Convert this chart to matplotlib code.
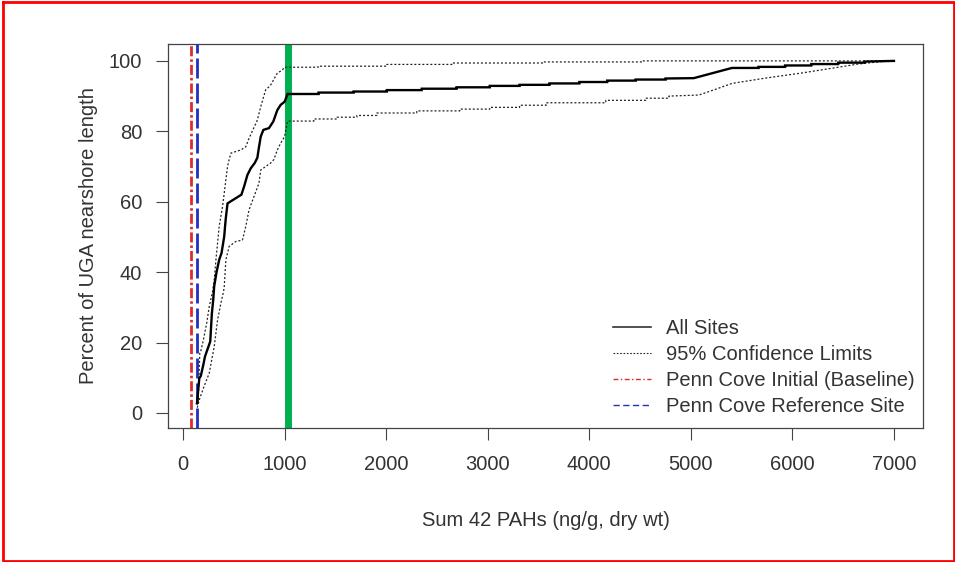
import matplotlib
matplotlib.use("Agg")
import matplotlib.pyplot as plt
from matplotlib.lines import Line2D

# ---------------- data ----------------
all_x = [137, 160, 175, 203, 216, 268, 284, 297, 307, 330, 356, 379, 405, 420, 438,
         464, 575, 601, 634, 667, 706, 732, 745, 765, 791, 846, 889, 928, 961, 1000,
         1030, 1335, 1335, 1680, 1680, 2007, 2007, 2350, 2350, 2693, 2693, 3020, 3020,
         3314, 3314, 3608, 3608, 3902, 3902, 4176, 4176, 4458, 4458, 4752, 4752, 5029,
         5405, 5667, 5667, 5928, 5928, 6186, 6186, 6451, 6451, 6712, 6712, 7000]
all_y = [2.7, 9.8, 10.5, 14.1, 16.0, 20.3, 28.3, 32.0, 36.0, 40.0, 43.5, 45.4, 50.0, 55.0, 59.5,
         60.0, 62.0, 64.3, 67.6, 69.5, 71.0, 72.5, 75.0, 78.5, 80.4, 80.9, 82.8, 86.0, 87.5, 88.4,
         90.6, 90.6, 91.0, 91.0, 91.3, 91.3, 91.7, 91.7, 92.1, 92.1, 92.5, 92.5, 92.9,
         92.9, 93.2, 93.2, 93.6, 93.6, 94.0, 94.0, 94.4, 94.4, 94.7, 94.7, 95.0, 95.1,
         98.0, 98.0, 98.3, 98.3, 98.7, 98.7, 99.1, 99.1, 99.5, 99.5, 99.8, 100.0]

upper_x = [150, 165, 174, 200, 233, 258, 291, 307, 324, 356, 389, 422, 438, 454, 471,
           569, 618, 650, 732, 765, 814, 860, 928, 977, 1000,
           1330, 1330, 2007, 2007, 2657, 2657, 3539, 3539, 4520, 4520, 7000]
upper_y = [4.0, 17.0, 17.4, 20.7, 25.5, 30.2, 34.5, 37.8, 43.5, 53.0, 58.6, 66.2, 70.0, 72.0, 73.8,
           74.7, 75.6, 78.0, 83.2, 87.0, 91.8, 93.0, 96.5, 97.4, 98.2,
           98.2, 98.5, 98.5, 99.0, 99.0, 99.4, 99.4, 99.7, 99.7, 100.0, 100.0]

lower_x = [140, 160, 200, 258, 307, 340, 373, 395, 405, 422, 454, 520, 585, 618, 650,
           748, 765, 814, 863, 895, 928, 961, 1000, 1030,
           1288, 1288, 1516, 1516, 1712, 1712, 1909, 1909, 2301, 2301, 2725, 2725,
           3020, 3020, 3314, 3314, 3575, 3575, 4163, 4163, 4556, 4556, 4784, 4784,
           5078, 5250, 5405, 5732, 6078, 6386, 6647, 6873, 7000]
lower_y = [1.5, 3.7, 7.0, 11.3, 18.8, 26.4, 31.2, 34.0, 35.5, 43.5, 47.3, 48.7, 49.1, 53.0, 57.7,
           65.3, 69.0, 70.0, 71.0, 72.0, 74.7, 76.6, 78.5, 82.9,
           82.9, 83.5, 83.5, 84.0, 84.0, 84.5, 84.5, 85.2, 85.2, 85.8, 85.8, 86.3,
           86.3, 86.8, 86.8, 87.4, 87.4, 88.1, 88.1, 88.8, 88.8, 89.4, 89.4, 90.0,
           90.3, 92.0, 93.6, 95.1, 96.5, 97.9, 99.1, 99.8, 100.0]

penn_initial = 76
penn_reference = 140
threshold = 1030

x_ticks = [0, 1000, 2000, 3000, 4000, 5000, 6000, 7000]
y_ticks = [0, 20, 40, 60, 80, 100]

legend_labels = ["All Sites", "95% Confidence Limits",
                 "Penn Cove Initial (Baseline)", "Penn Cove Reference Site"]

# ---------------- styling ----------------
plt.rcParams['font.family'] = ['Liberation Sans', 'DejaVu Sans']
W, H = 955, 562
fig = plt.figure(figsize=(W / 100, H / 100), dpi=100)
fig.patch.set_facecolor('white')

ax_l, ax_r, ax_t, ax_b = 168, 923, 44, 427.7
ax = fig.add_axes([ax_l / W, 1 - ax_b / H, (ax_r - ax_l) / W, (ax_b - ax_t) / H])

txt = '#333333'
red = '#dd2c2c'
blue = '#2030c0'
green = '#00b050'
FS = 14.5

ax.axvline(threshold, color=green, lw=5.0, zorder=2)
ax.axvline(penn_initial, color=red, lw=2.0, linestyle=(0, (3.6, 1.1, 0.9, 1.1)), zorder=3)
ax.axvline(penn_reference, color=blue, lw=2.0, linestyle=(0, (7.2, 1.8)), zorder=3)

ax.plot(upper_x, upper_y, color='#222222', lw=0.9, linestyle=(0, (1.6, 1.6)), zorder=4)
ax.plot(lower_x, lower_y, color='#222222', lw=0.9, linestyle=(0, (1.6, 1.6)), zorder=4)
ax.plot(all_x, all_y, color='black', lw=1.7, zorder=5, solid_joinstyle='miter')

ax.set_xlim(-148, 7286)
ax.set_ylim(-4.2, 104.8)
ax.set_xticks(x_ticks)
ax.set_yticks(y_ticks)
ax.set_xticklabels([str(v) for v in x_ticks])
ax.set_yticklabels([str(v) for v in y_ticks])
ax.tick_params(axis='both', direction='out', length=8.5, width=0.8, colors='#444444',
               labelcolor=txt, labelsize=FS)
ax.tick_params(axis='x', pad=11)
ax.tick_params(axis='y', pad=10)
for s in ax.spines.values():
    s.set_color('#444444')
    s.set_linewidth(0.9)

ax.set_xlabel("Sum 42 PAHs (ng/g, dry wt)", fontsize=FS, color=txt, va='center')
ax.xaxis.set_label_coords(0.5, -(520 - ax_b) / (ax_b - ax_t))
ax.set_ylabel("Percent of UGA nearshore length", fontsize=FS, color=txt, va='center')
ax.yaxis.set_label_coords(-(ax_l - 88) / (ax_r - ax_l), 0.5)

handles = [
    Line2D([], [], color='#333333', lw=1.2),
    Line2D([], [], color='#222222', lw=0.8, linestyle=(0, (1.5, 1.5))),
    Line2D([], [], color=red, lw=1.0, linestyle=(0, (3.5, 1.8, 1, 1.8))),
    Line2D([], [], color=blue, lw=1.0, linestyle=(0, (4.5, 2.5))),
]
leg = ax.legend(handles, legend_labels, loc='lower right', frameon=False, fontsize=FS,
                handlelength=1.89, handletextpad=0.75, labelspacing=0.34,
                borderpad=0.35, borderaxespad=0.05,
                bbox_to_anchor=(1.0, 0.01))
for t in leg.get_texts():
    t.set_color(txt)

# red frame around the picture
bx = [3 / W, 954 / W, 954 / W, 3 / W, 3 / W]
by = [1 - 1.5 / H, 1 - 1.5 / H, 1 - 560.5 / H, 1 - 560.5 / H, 1 - 1.5 / H]
fig.add_artist(Line2D(bx, by, transform=fig.transFigure, color='#ff0000', lw=2.0))

fig.savefig("out.png", dpi=100)
